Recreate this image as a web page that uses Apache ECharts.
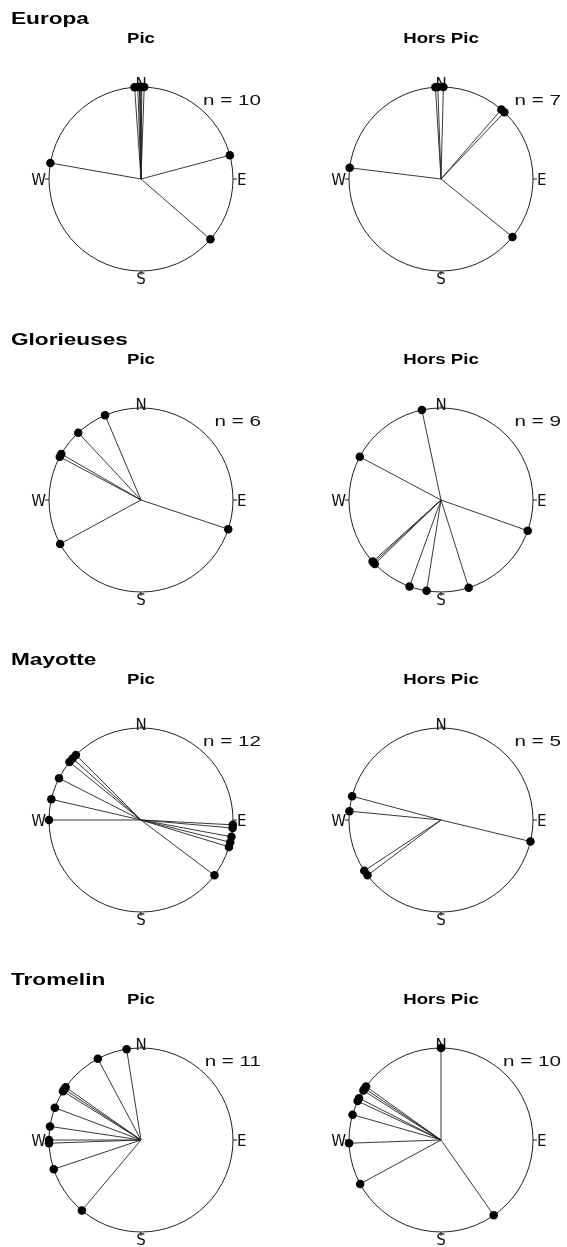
<!DOCTYPE html>
<html lang="fr">
<head>
    <meta charset="UTF-8">
    <title>Directions</title>
    <style>
        #main{
            width: 567px;
            height: 1247px;
        }
    </style>
    <script src="https://cdn.jsdelivr.net/npm/echarts@6/dist/echarts.min.js"></script>
</head>
<body style="margin: 0;background: #fff">
<div id="main"></div>
<script>
    // angles en degrés (0 = N, sens horaire)
    var sites = ['Europa', 'Glorieuses', 'Mayotte', 'Tromelin'];
    var periodes = ['Pic', 'Hors Pic'];
    var points = {0: 'N', 90: 'E', 180: 'S', 270: 'W'};

    var europaPic = [356, 358, 359, 359.5, 0, 0.5, 2, 75, 131, 280];
    var europaHorsPic = [356.5, 358, 1.5, 41, 43.5, 129, 277];
    var glorieusesPic = [108.5, 241.5, 298, 300, 317, 337];
    var glorieusesHorsPic = [109.5, 162.5, 189, 200, 226, 227, 228, 298, 348];
    var mayottePic = [93, 95, 100.5, 104, 107, 127, 270, 283, 297, 309, 312, 315];
    var mayotteHorsPic = [103.5, 233, 236.5, 275.5, 285];
    var tromelinPic = [220, 251.5, 268, 270, 278.5, 290.5, 302, 303.5, 305, 332, 351];
    var tromelinHorsPic = [0, 145, 241.5, 268, 286, 295, 297, 302.5, 304, 305.5];

    var panels = [
        [europaPic, europaHorsPic],
        [glorieusesPic, glorieusesHorsPic],
        [mayottePic, mayotteHorsPic],
        [tromelinPic, tromelinHorsPic]
    ];

    var rowY = [179, 500, 820, 1140];
    var colX = [141, 441];
    var R = 92;
    var font = '"Liberation Sans", Arial, sans-serif';
    var wide = 1.33; // le texte de la figure est étiré en largeur

    var chart = echarts.init(document.getElementById('main'));

    var polar = [], angleAxis = [], radiusAxis = [], series = [], graphic = [];
    var idx = 0;

    for (var r = 0; r < panels.length; r++) {
        var cy = rowY[r];
        graphic.push({
            type: 'text', x: 11, y: cy - 159.5, scaleX: wide,
            style: {text: sites[r], font: 'bold 17px ' + font, fill: '#000', verticalAlign: 'middle'}
        });
        for (var c = 0; c < 2; c++) {
            var cx = colX[c];
            var angles = panels[r][c];
            polar.push({center: [cx, cy], radius: R});
            angleAxis.push({
                polarIndex: idx,
                type: 'value',
                min: 0,
                max: 360,
                interval: 90,
                startAngle: 90,
                clockwise: true,
                axisLine: {lineStyle: {color: '#222', width: 1}},
                axisTick: {show: true, length: 4, lineStyle: {color: '#222'}},
                axisLabel: {
                    margin: -6,
                    color: '#111',
                    fontSize: 15,
                    fontFamily: '"DejaVu Sans", sans-serif',
                    formatter: function (v) {
                        var p = points[v];
                        return p ? '{' + p + '|' + p + '}' : '';
                    },
                    rich: {
                        N: {},
                        E: {padding: [4, 0, 0, 10]},
                        S: {padding: [8, 0, 0, 0]},
                        W: {padding: [4, 9, 0, 0]}
                    }
                },
                splitLine: {show: false}
            });
            radiusAxis.push({polarIndex: idx, min: 0, max: 1, show: false});

            angles.forEach(function (a) {
                series.push({
                    type: 'line',
                    coordinateSystem: 'polar',
                    polarIndex: idx,
                    data: [[0, a], [1, a]],
                    symbol: 'none',
                    silent: true,
                    lineStyle: {color: '#222', width: 0.9}
                });
            });
            series.push({
                type: 'scatter',
                coordinateSystem: 'polar',
                polarIndex: idx,
                data: angles.map(function (a) { return [1, a]; }),
                symbolSize: 8.5,
                itemStyle: {color: '#000', opacity: 1},
                z: 5
            });

            graphic.push({
                type: 'text', x: cx, y: cy - 139.5, scaleX: wide,
                style: {text: periodes[c], font: 'bold 14px ' + font, fill: '#000', align: 'center', verticalAlign: 'middle'}
            });
            graphic.push({
                type: 'text', x: cx + 120, y: cy - 78.5, scaleX: wide,
                style: {text: 'n = ' + angles.length, font: '15.5px ' + font, fill: '#111', align: 'right', verticalAlign: 'middle'}
            });
            idx++;
        }
    }

    chart.setOption({
        animation: false,
        polar: polar,
        angleAxis: angleAxis,
        radiusAxis: radiusAxis,
        series: series,
        graphic: graphic
    });
</script>
</body>
</html>
